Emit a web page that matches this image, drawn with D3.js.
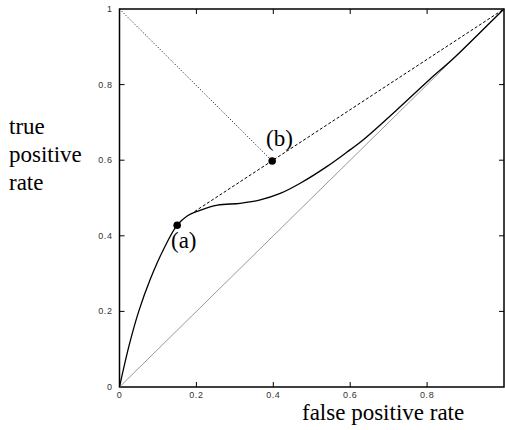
<!DOCTYPE html>
<html>
<head>
<meta charset="utf-8">
<script src="https://cdn.jsdelivr.net/npm/d3@7"></script>
<style>
  body { margin: 0; background: #fff; }
  svg { display: block; }
  .serif { font-family: "Liberation Serif", "Times New Roman", serif; font-size: 23px; }
</style>
</head>
<body>
<svg width="505" height="430"></svg>
<script>
// ROC curve
var fpr = [0, 0.025, 0.05, 0.08, 0.115, 0.15, 0.177, 0.206, 0.255, 0.314, 0.366, 0.418, 0.47, 0.539, 0.591, 0.635, 0.721, 0.808, 0.864, 0.93, 1];
var tpr = [0, 0.11, 0.2, 0.285, 0.365, 0.428, 0.453, 0.466, 0.481, 0.486, 0.495, 0.512, 0.539, 0.583, 0.621, 0.655, 0.733, 0.815, 0.865, 0.93, 1];

// convex hull segment (dashed) and iso line (dotted)
var hullX = [0.195, 1];
var hullY = [0.464, 1];
var isoX = [0, 0.397];
var isoY = [1, 0.598];

// marked points
var ptNames = ["(a)", "(b)"];
var ptX = [0.15, 0.397];
var ptY = [0.428, 0.598];

var ticks = [0, 0.2, 0.4, 0.6, 0.8];
var yTicks = [0, 0.2, 0.4, 0.6, 0.8, 1];

function main() {
  var svg = d3.select("svg");

  var x = d3.scaleLinear().domain([0, 1]).range([119.5, 504]);
  var y = d3.scaleLinear().domain([0, 1]).range([387, 9]);

  var line = d3.line()
    .x(function(d) { return x(d[0]); })
    .y(function(d) { return y(d[1]); });

  // inward ticks on all four sides
  var g = svg.append("g");
  g.selectAll(".xb").data(ticks.slice(1)).enter().append("line")
    .attr("x1", function(d) { return x(d); }).attr("x2", function(d) { return x(d); })
    .attr("y1", y(0)).attr("y2", y(0) - 5)
    .attr("stroke", "#000").attr("stroke-width", 1);
  g.selectAll(".xt").data(ticks.slice(1)).enter().append("line")
    .attr("x1", function(d) { return x(d); }).attr("x2", function(d) { return x(d); })
    .attr("y1", y(1)).attr("y2", y(1) + 5)
    .attr("stroke", "#000").attr("stroke-width", 1);
  g.selectAll(".yl").data(yTicks.slice(1, 5)).enter().append("line")
    .attr("x1", x(0)).attr("x2", x(0) + 5)
    .attr("y1", function(d) { return y(d); }).attr("y2", function(d) { return y(d); })
    .attr("stroke", "#000").attr("stroke-width", 1);
  g.selectAll(".yr").data(yTicks.slice(1, 5)).enter().append("line")
    .attr("x1", x(1)).attr("x2", x(1) - 5)
    .attr("y1", function(d) { return y(d); }).attr("y2", function(d) { return y(d); })
    .attr("stroke", "#000").attr("stroke-width", 1);

  // tick labels
  g.selectAll(".xlab").data(ticks).enter().append("text")
    .attr("x", function(d) { return x(d); })
    .attr("y", y(0) + 11)
    .attr("text-anchor", "middle")
    .style("font-family", "Liberation Sans, sans-serif")
    .style("font-size", "9px")
    .style("letter-spacing", "0.6px")
    .attr("fill", "#333")
    .text(function(d) { return d === 0 ? "0" : d3.format(".1f")(d); });
  g.selectAll(".ylab").data(yTicks).enter().append("text")
    .attr("x", x(0) - 7)
    .attr("y", function(d) { return y(d) + 3; })
    .attr("text-anchor", "end")
    .style("font-family", "Liberation Sans, sans-serif")
    .style("font-size", "9px")
    .style("letter-spacing", "0.6px")
    .attr("fill", "#333")
    .text(function(d) { return d === 0 ? "0" : d === 1 ? "1" : d3.format(".1f")(d); });

  // frame
  svg.append("rect")
    .attr("x", x(0)).attr("y", y(1))
    .attr("width", x(1) - x(0)).attr("height", y(0) - y(1))
    .attr("fill", "none").attr("stroke", "#000").attr("stroke-width", 1.5);

  // random classifier diagonal
  svg.append("path")
    .attr("d", line([[0, 0], [1, 1]]))
    .attr("fill", "none").attr("stroke", "#999").attr("stroke-width", 1);

  // iso line (dotted)
  svg.append("path")
    .attr("d", line(isoX.map(function(v, i) { return [v, isoY[i]]; })))
    .attr("fill", "none").attr("stroke", "#000").attr("stroke-width", 1)
    .attr("stroke-dasharray", "1,2");

  // hull (dashed)
  svg.append("path")
    .attr("d", line(hullX.map(function(v, i) { return [v, hullY[i]]; })))
    .attr("fill", "none").attr("stroke", "#000").attr("stroke-width", 1)
    .attr("stroke-dasharray", "3,2");

  // ROC curve
  svg.append("path")
    .attr("d", line.curve(d3.curveCatmullRom.alpha(0.5))(fpr.map(function(v, i) { return [v, tpr[i]]; })))
    .attr("fill", "none").attr("stroke", "#000").attr("stroke-width", 1.3);

  // points
  svg.selectAll(".pt").data(ptX).enter().append("circle")
    .attr("cx", function(d) { return x(d); })
    .attr("cy", function(d, i) { return y(ptY[i]); })
    .attr("r", 3.8).attr("fill", "#000");

  svg.append("text").attr("class", "serif").attr("x", 171).attr("y", 248).text(ptNames[0]);
  svg.append("text").attr("class", "serif").attr("x", 266).attr("y", 146).text(ptNames[1]);

  // axis titles
  svg.append("text").attr("class", "serif").attr("x", 302).attr("y", 420)
    .text("false positive rate");
  var yt = svg.append("text").attr("class", "serif");
  ["true", "positive", "rate"].forEach(function(s, i) {
    yt.append("tspan").attr("x", 9).attr("y", 134 + i * 28).text(s);
  });
}
main();
</script>
</body>
</html>
